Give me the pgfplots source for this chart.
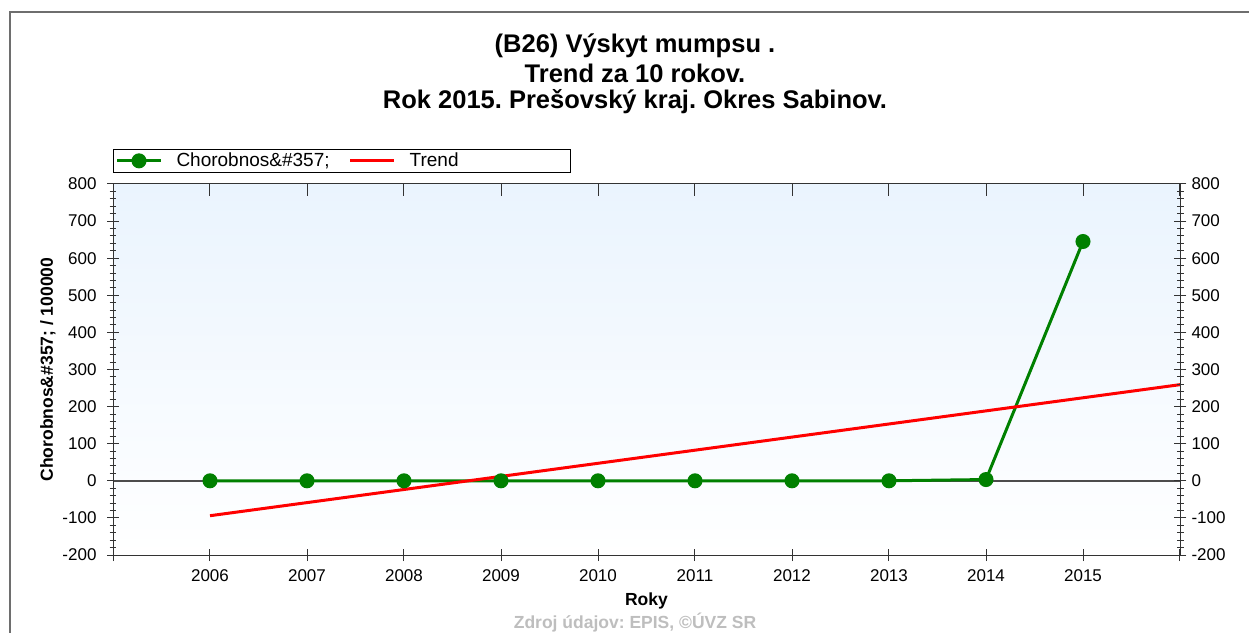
\documentclass[border=0pt]{standalone}
\usepackage{fontspec}
\setmainfont{Liberation Sans}
\usepackage{pgfplots}
\pgfplotsset{compat=1.18}
\frenchspacing
\definecolor{lgreen}{RGB}{0,128,0}
\definecolor{lred}{RGB}{255,0,0}
\definecolor{bgtop}{RGB}{234,244,254}
\definecolor{framegray}{RGB}{110,110,110}
\definecolor{srcgray}{RGB}{190,190,190}
\begin{document}
\begin{tikzpicture}[x=1pt,y=1pt]
\useasboundingbox (0,0) rectangle (1249,632);
\fill[white] (0,0) rectangle (1249,632);
\draw[framegray,line width=1.5pt] (10,-2) -- (10,620) -- (1252,620);
\node[font=\fontsize{25.5}{28}\selectfont\bfseries] at (635,586) {(B26) Výskyt mumpsu .};
\node[font=\fontsize{25.5}{28}\selectfont\bfseries] at (635,559) {Trend za 10 rokov.};
\node[font=\fontsize{25.5}{28}\selectfont\bfseries] at (635,530) {Rok 2015. Prešovský kraj. Okres Sabinov.};
\node[font=\fontsize{17.5}{19}\selectfont\bfseries, text=srcgray] at (635,9) {Zdroj údajov: EPIS, ©ÚVZ SR};

\pgfplotsset{
  common/.style={
    at={(113pt,77pt)}, anchor=south west,
    width=1067pt, height=371pt, scale only axis,
    xmin=2005, xmax=2016, ymin=-200, ymax=800,
    xtick={2005,2006,...,2016},
    ytick={-200,-100,...,800},
    minor y tick num=4,
    major tick length=12pt, minor tick length=7pt,
    tick style={black!80, line width=1pt},
    axis line style={black!80, line width=1pt},
    tick label style={font=\fontsize{17}{19}\selectfont},
    /pgf/number format/assume math mode=true,
    /pgf/number format/.cd, 1000 sep={}, /pgfplots/.cd,
  }
}

\begin{axis}[common,
  xticklabels={,2006,2007,2008,2009,2010,2011,2012,2013,2014,2015,},
  xtick pos=left, xtick align=center,
  ytick pos=both, ytick align=center,
  yticklabel pos=left,
  xticklabel style={yshift=-5pt},
  yticklabel style={xshift=-7pt},
  axis background/.style={shade, top color=bgtop, bottom color=white},
  xlabel={\bfseries Roky},
  ylabel={\bfseries Chorobnos\&\#357; / 100000},
  label style={font=\fontsize{17.5}{19}\selectfont},
  xlabel style={at={(axis description cs:0.5,0)}, anchor=center, yshift=-46pt},
  ylabel style={at={(axis description cs:-0.061,0.5)}, anchor=center},
  legend columns=2,
  legend style={at={(0,1)}, anchor=south west, yshift=11pt,
    draw=black, fill=white, line width=1pt, inner sep=2pt,
    font=\fontsize{19}{21}\selectfont,
    /tikz/every odd column/.append style={column sep=12pt},
    /tikz/every even column/.append style={column sep=17pt}},
  legend image code/.code={\draw[#1, mark repeat=2, mark phase=2] plot coordinates {(0pt,0pt) (22pt,0pt) (44pt,0pt)};},
  legend cell align=left,
]
\addplot[forget plot, color=black!70, line width=1.5pt] coordinates {(2005,0) (2016,0)};
\addplot[color=lgreen, line width=3pt, mark=*, mark size=6pt, mark options={solid}] coordinates {
(2006,0) (2007,0) (2008,0) (2009,0) (2010,0) (2011,0) (2012,0) (2013,0) (2014,3.4) (2015,645)};
\addlegendentry{Chorobnos\&\#357;}
\addplot[color=lred, line width=3pt] coordinates {(2006,-94.1) (2016,259.1)};
\addlegendentry{Trend\hspace*{108pt}}
\end{axis}

\begin{axis}[common,
  xticklabels={},
  xtick pos=right, xtick align=inside,
  ytick pos=right, ytick align=center,
  yticklabel pos=right,
  yticklabel style={xshift=2pt},
]
\end{axis}
\end{tikzpicture}
\end{document}
